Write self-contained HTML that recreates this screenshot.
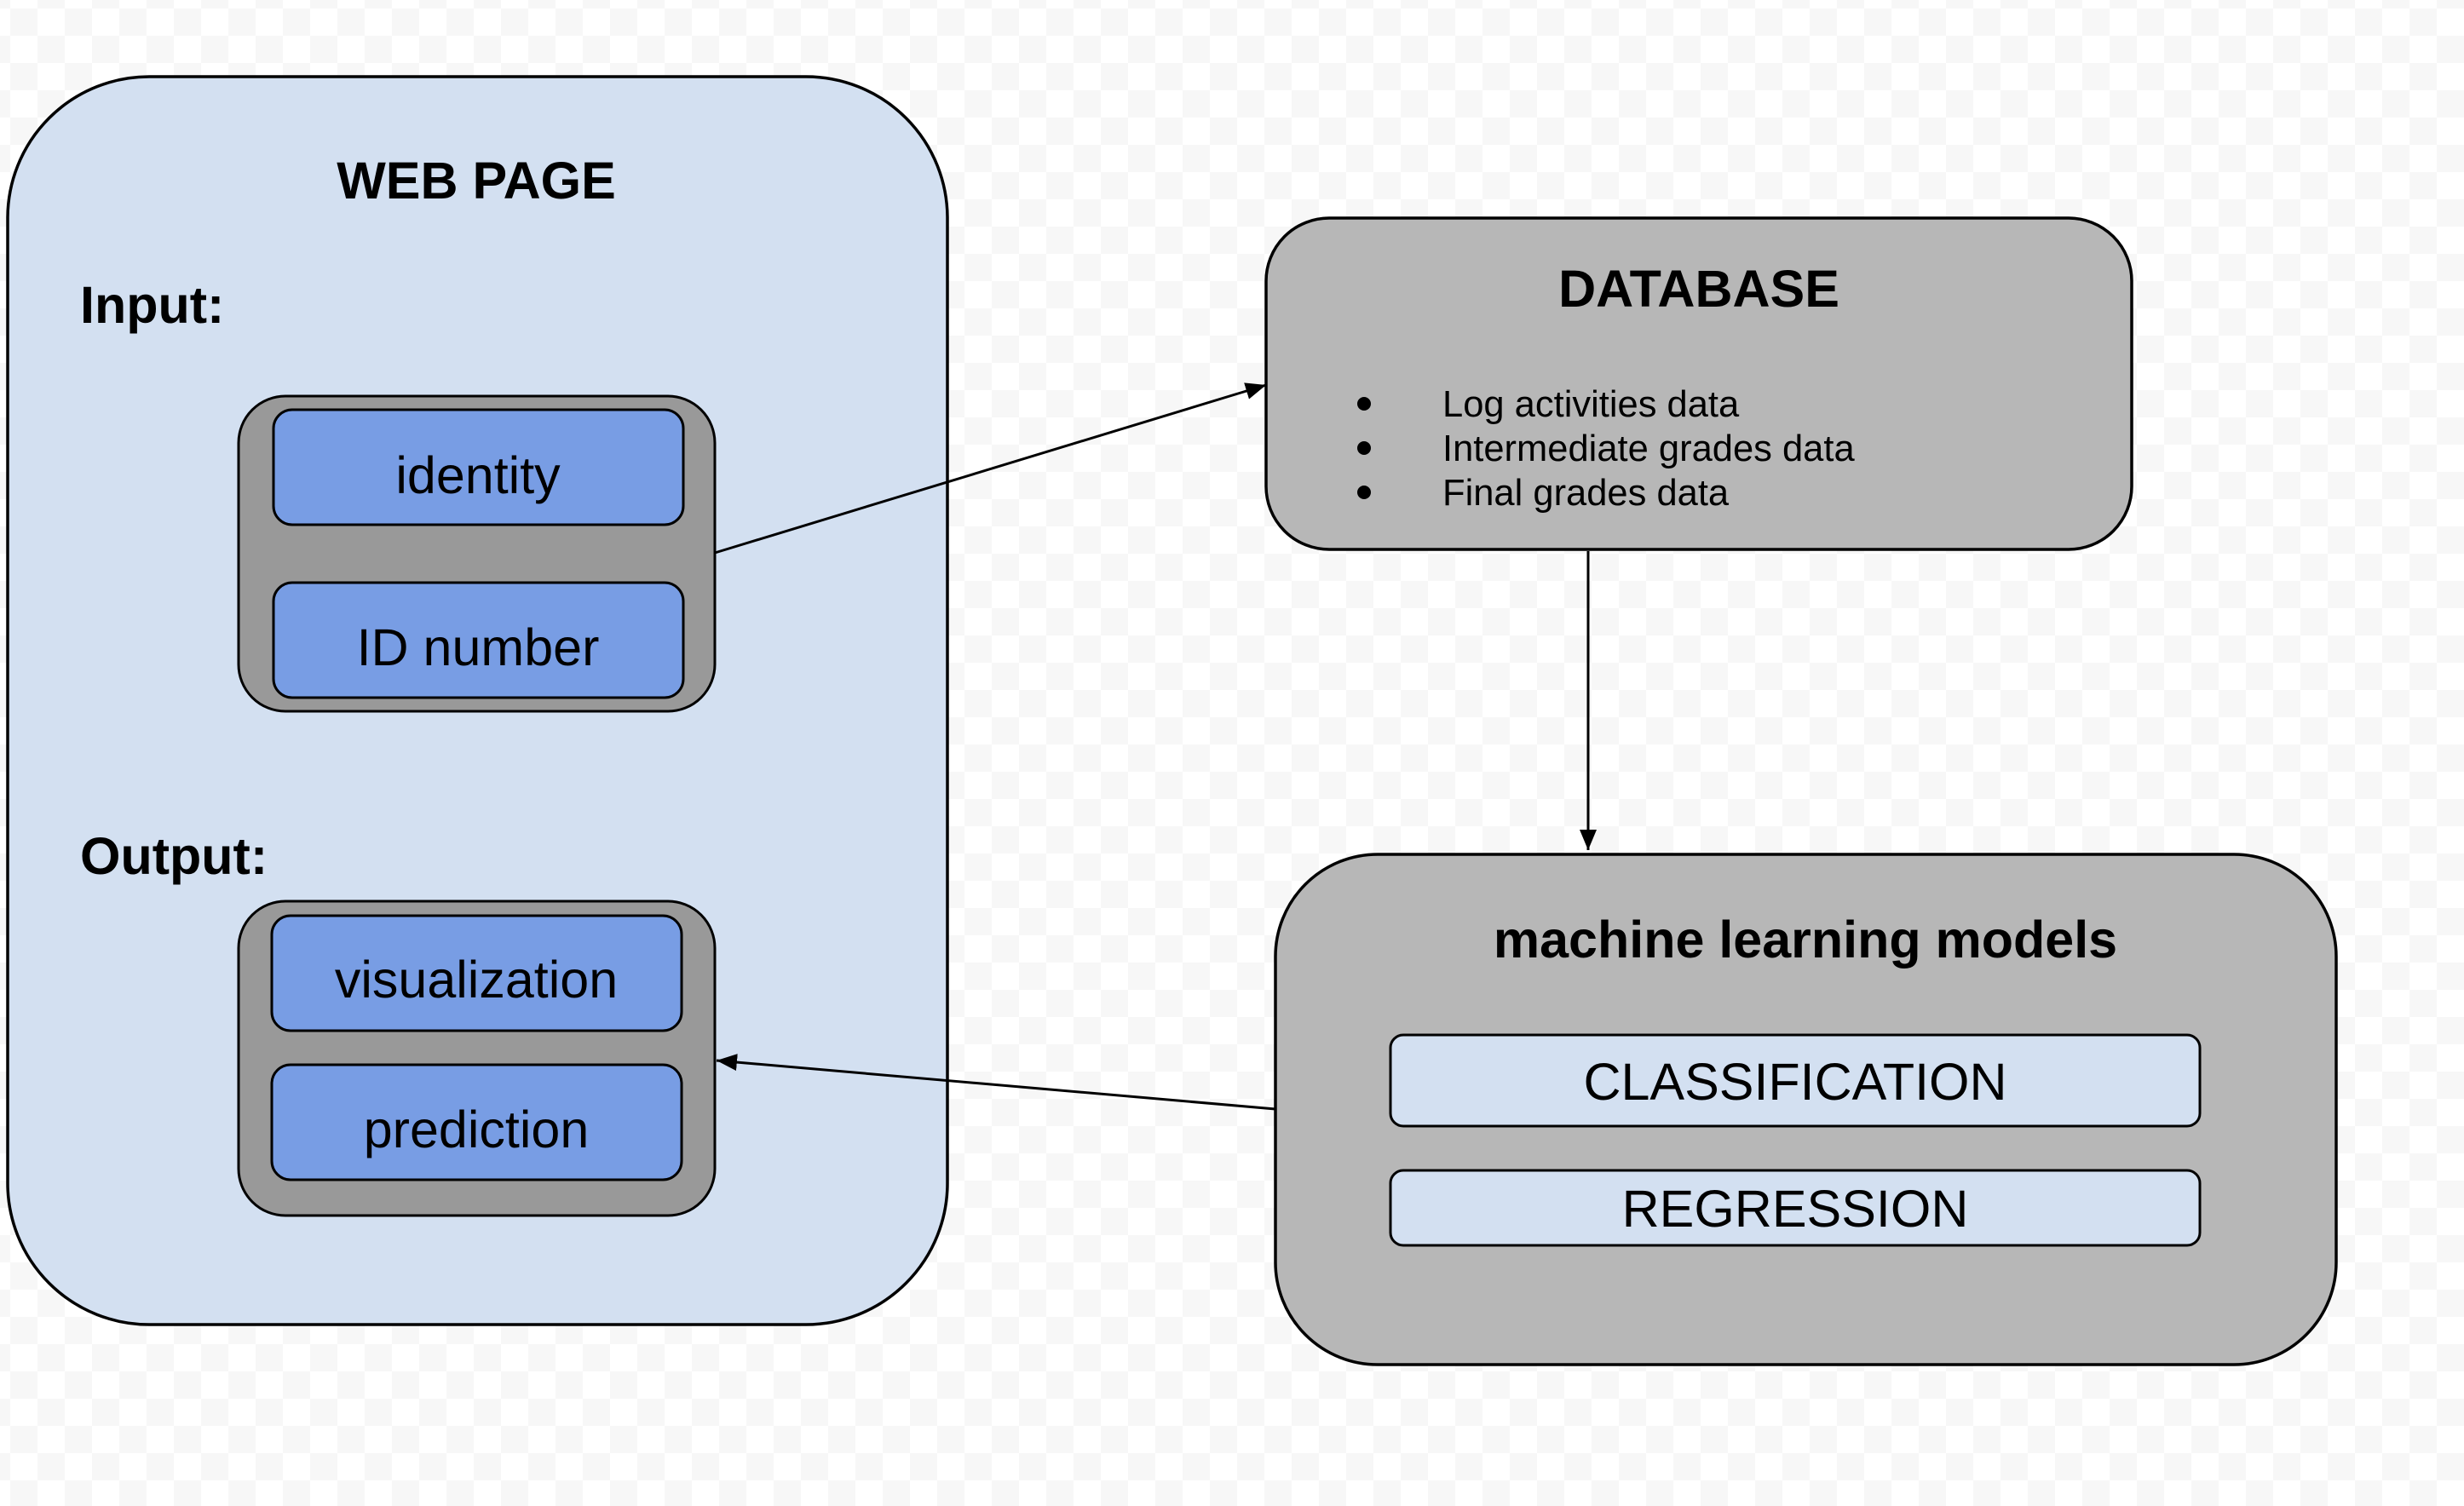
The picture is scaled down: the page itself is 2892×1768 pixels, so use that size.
<!DOCTYPE html>
<html><head><meta charset="utf-8"><style>
html,body{margin:0;padding:0;width:2892px;height:1768px;overflow:hidden;}
svg{display:block}
text{font-family:"Liberation Sans",Arial,sans-serif;fill:#000}
</style></head><body>
<svg width="2892" height="1768" viewBox="0 0 2892 1768" xmlns="http://www.w3.org/2000/svg">
<defs>
<pattern id="chk" width="64" height="64" patternUnits="userSpaceOnUse" x="12" y="10">
<rect width="64" height="64" fill="#ffffff"/>
<rect width="32" height="32" fill="#f7f7f7"/>
<rect x="32" y="32" width="32" height="32" fill="#f7f7f7"/>
</pattern>
<marker id="ah" markerWidth="24" markerHeight="20" refX="24" refY="10" orient="auto" markerUnits="userSpaceOnUse" viewBox="0 0 24 20">
<path d="M0,0 L24,10 L0,20 z" fill="#000"/>
</marker>
</defs>
<rect width="2892" height="1768" fill="url(#chk)"/>

<!-- WEB PAGE -->
<rect x="9" y="90" width="1103" height="1465" rx="166" fill="#d3e0f1" stroke="#000" stroke-width="3.5"/>
<text x="559" y="233" font-size="61" font-weight="bold" text-anchor="middle">WEB PAGE</text>
<text x="94" y="379" font-size="61" font-weight="bold">Input:</text>
<text x="94" y="1026" font-size="61" font-weight="bold">Output:</text>

<rect x="280" y="465" width="559" height="370" rx="55" fill="#999999" stroke="#000" stroke-width="3"/>
<rect x="321" y="481" width="481" height="135" rx="22" fill="#789de4" stroke="#000" stroke-width="3"/>
<text x="561" y="579" font-size="61" text-anchor="middle">identity</text>
<rect x="321" y="684" width="481" height="135" rx="22" fill="#789de4" stroke="#000" stroke-width="3"/>
<text x="561" y="781" font-size="61" text-anchor="middle">ID number</text>

<rect x="280" y="1058" width="559" height="369" rx="55" fill="#999999" stroke="#000" stroke-width="3"/>
<rect x="319" y="1075" width="481" height="135" rx="22" fill="#789de4" stroke="#000" stroke-width="3"/>
<text x="559" y="1171" font-size="61" text-anchor="middle">visualization</text>
<rect x="319" y="1250" width="481" height="135" rx="22" fill="#789de4" stroke="#000" stroke-width="3"/>
<text x="559" y="1347" font-size="61" text-anchor="middle">prediction</text>

<!-- DATABASE -->
<rect x="1486" y="256" width="1016" height="389" rx="74" fill="#b7b7b7" stroke="#000" stroke-width="3.5"/>
<text x="1994" y="360" font-size="61" font-weight="bold" text-anchor="middle">DATABASE</text>
<circle cx="1601" cy="474" r="8" fill="#000"/>
<circle cx="1601" cy="526" r="8" fill="#000"/>
<circle cx="1601" cy="578" r="8" fill="#000"/>
<text x="1693" y="489" font-size="43.5">Log activities data</text>
<text x="1693" y="541" font-size="43.5">Intermediate grades data</text>
<text x="1693" y="593" font-size="43.5">Final grades data</text>

<!-- ML -->
<rect x="1497" y="1003" width="1245" height="599" rx="120" fill="#b7b7b7" stroke="#000" stroke-width="3.5"/>
<text x="2119" y="1124" font-size="61" font-weight="bold" text-anchor="middle">machine learning models</text>
<rect x="1632" y="1215" width="950" height="107" rx="15" fill="#d3e0f1" stroke="#000" stroke-width="3"/>
<text x="2107" y="1291" font-size="61" text-anchor="middle">CLASSIFICATION</text>
<rect x="1632" y="1374" width="950" height="88" rx="15" fill="#d3e0f1" stroke="#000" stroke-width="3"/>
<text x="2107" y="1440" font-size="61" text-anchor="middle">REGRESSION</text>

<!-- arrows -->
<line x1="839" y1="649" x2="1486" y2="452" stroke="#000" stroke-width="3" marker-end="url(#ah)"/>
<line x1="1864" y1="647" x2="1864" y2="998" stroke="#000" stroke-width="3" marker-end="url(#ah)"/>
<line x1="1497" y1="1302" x2="841" y2="1245" stroke="#000" stroke-width="3" marker-end="url(#ah)"/>
</svg>
</body></html>
